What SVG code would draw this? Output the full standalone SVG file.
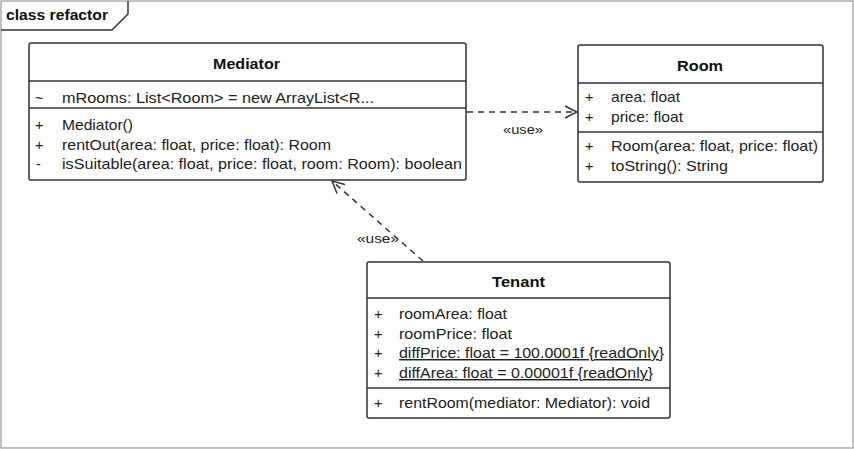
<svg xmlns="http://www.w3.org/2000/svg" width="854" height="449" viewBox="0 0 854 449">
<defs>
<style>
.box{fill:#fff;stroke:#333;stroke-width:1.5}
.sep{stroke:#333;stroke-width:1.5}
.t{font-family:"Liberation Sans",Arial,sans-serif;font-size:14.5px;fill:#222}
.h{font-family:"Liberation Sans",Arial,sans-serif;font-size:15px;font-weight:bold;fill:#111}
.dep{fill:none;stroke:#333;stroke-width:1.5;stroke-dasharray:6,5}
.lbl{font-family:"Liberation Sans",Arial,sans-serif;font-size:13px;fill:#222}
</style>
<marker id="open" viewBox="0 0 14 14" refX="13" refY="7" markerWidth="14" markerHeight="14" markerUnits="userSpaceOnUse" orient="auto">
<path d="M1,1 L13,7 L1,13" fill="none" stroke="#333" stroke-width="1.5"/>
</marker>
</defs>
<rect width="854" height="449" fill="#fff"/>
<g id="frame">
<rect x="1" y="1" width="852" height="447" fill="none" stroke="#999" stroke-width="1.2"/>
<path d="M1,30 H112 L128,14 V1" fill="none" stroke="#333" stroke-width="1.5"/>
<text x="6" y="20" class="h" textLength="102" lengthAdjust="spacingAndGlyphs">class refactor</text>
</g>
<g id="connectors">
<path class="dep" d="M467,112 H577" marker-end="url(#open)"/>
<text x="503" y="134" class="lbl" textLength="40" lengthAdjust="spacingAndGlyphs">«use»</text>
<path class="dep" d="M423,261 L332,181" marker-end="url(#open)"/>
<text x="357" y="243" class="lbl" textLength="42" lengthAdjust="spacingAndGlyphs">«use»</text>
</g>
<g id="Mediator">
<rect class="box" x="29" y="43" width="437" height="137" rx="2"/>
<line class="sep" x1="29" y1="81" x2="466" y2="81"/>
<line class="sep" x1="29" y1="108" x2="466" y2="108"/>
<text x="213" y="69" class="h" textLength="67" lengthAdjust="spacingAndGlyphs">Mediator</text>
<text x="35" y="103" class="t">~</text>
<text x="62" y="103" class="t" textLength="312" lengthAdjust="spacingAndGlyphs">mRooms: List&lt;Room&gt; = new ArrayList&lt;R...</text>
<text x="35" y="130" class="t">+</text>
<text x="62" y="130" class="t" textLength="71" lengthAdjust="spacingAndGlyphs">Mediator()</text>
<text x="35" y="150" class="t">+</text>
<text x="62" y="150" class="t" textLength="269" lengthAdjust="spacingAndGlyphs">rentOut(area: float, price: float): Room</text>
<text x="36" y="169" class="t">-</text>
<text x="62" y="169" class="t" textLength="400" lengthAdjust="spacingAndGlyphs">isSuitable(area: float, price: float, room: Room): boolean</text>
</g>
<g id="Room">
<rect class="box" x="578" y="45" width="245" height="137" rx="2"/>
<line class="sep" x1="578" y1="83" x2="823" y2="83"/>
<line class="sep" x1="578" y1="132" x2="823" y2="132"/>
<text x="677" y="71" class="h" textLength="46" lengthAdjust="spacingAndGlyphs">Room</text>
<text x="585" y="102" class="t">+</text>
<text x="611" y="102" class="t" textLength="69" lengthAdjust="spacingAndGlyphs">area: float</text>
<text x="585" y="122" class="t">+</text>
<text x="611" y="122" class="t" textLength="72" lengthAdjust="spacingAndGlyphs">price: float</text>
<text x="585" y="151" class="t">+</text>
<text x="611" y="151" class="t" textLength="207" lengthAdjust="spacingAndGlyphs">Room(area: float, price: float)</text>
<text x="585" y="171" class="t">+</text>
<text x="611" y="171" class="t" textLength="117" lengthAdjust="spacingAndGlyphs">toString(): String</text>
</g>
<g id="Tenant">
<rect class="box" x="367" y="262" width="303" height="156" rx="2"/>
<line class="sep" x1="367" y1="298" x2="670" y2="298"/>
<line class="sep" x1="367" y1="388" x2="670" y2="388"/>
<text x="492" y="287" class="h" textLength="53" lengthAdjust="spacingAndGlyphs">Tenant</text>
<text x="374" y="319" class="t">+</text>
<text x="399" y="319" class="t" textLength="108" lengthAdjust="spacingAndGlyphs">roomArea: float</text>
<text x="374" y="339" class="t">+</text>
<text x="399" y="339" class="t" textLength="113" lengthAdjust="spacingAndGlyphs">roomPrice: float</text>
<text x="374" y="358" class="t">+</text>
<text x="399" y="358" class="t" text-decoration="underline" textLength="265" lengthAdjust="spacingAndGlyphs">diffPrice: float = 100.0001f {readOnly}</text>
<text x="374" y="378" class="t">+</text>
<text x="399" y="378" class="t" text-decoration="underline" textLength="254" lengthAdjust="spacingAndGlyphs">diffArea: float = 0.00001f {readOnly}</text>
<text x="374" y="408" class="t">+</text>
<text x="399" y="408" class="t" textLength="251" lengthAdjust="spacingAndGlyphs">rentRoom(mediator: Mediator): void</text>
</g>
</svg>
